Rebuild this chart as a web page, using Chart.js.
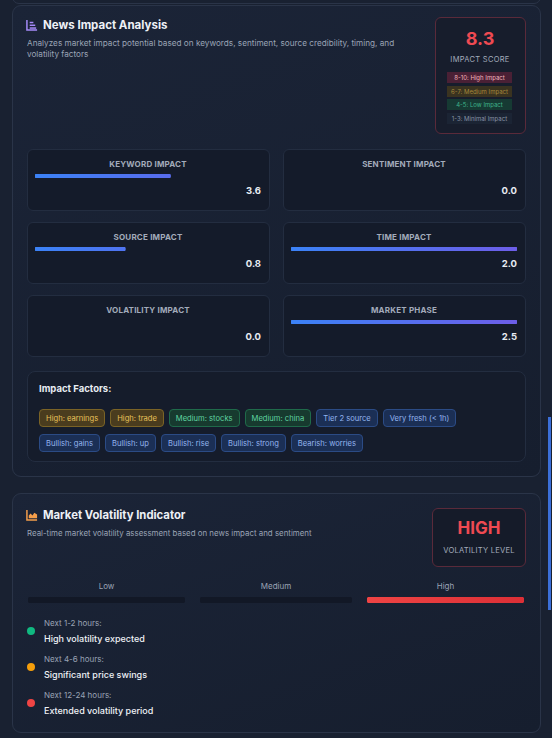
<!DOCTYPE html>
<html><head><meta charset="utf-8">
<script src="https://cdn.jsdelivr.net/npm/chart.js@4.4.0/dist/chart.umd.min.js"></script>
<style>
html,body{margin:0;padding:0;width:552px;height:738px;overflow:hidden;background:#192131;font-family:Inter,"Noto Sans",sans-serif;}
.a{position:absolute;}
.card{position:absolute;border:1px solid #2a3448;border-radius:9px;background:linear-gradient(160deg,#1b2437,#161e2e);}
.mc{position:absolute;border:1px solid #232d40;border-radius:6px;background:#141b2a;}
.t{position:absolute;white-space:nowrap;}
.chip{display:inline-block;font-size:7.6px;padding:0 6px;height:18px;line-height:17px;border-radius:4px;margin-right:5px;box-sizing:border-box;border:1px solid;}
canvas{display:block}
</style></head><body>
<div id="root"></div>
<script>
// ---- data ----
const metricNames = ["KEYWORD IMPACT","SENTIMENT IMPACT","SOURCE IMPACT","TIME IMPACT","VOLATILITY IMPACT","MARKET PHASE"];
const metricValues = [3.6, 0.0, 0.8, 2.0, 0.0, 2.5];
const metricMax = [6, 2, 2, 2, 2, 2.5];
const impactScore = 8.3;
const legendLabels = ["8-10: High Impact","6-7: Medium Impact","4-5: Low Impact","1-3: Minimal Impact"];
const factorsRow1 = ["High: earnings","High: trade","Medium: stocks","Medium: china","Tier 2 source","Very fresh (< 1h)"];
const factorsRow2 = ["Bullish: gains","Bullish: up","Bullish: rise","Bullish: strong","Bearish: worries"];
const levelLabels = ["Low","Medium","High"];
const levelActive = [0, 0, 1];
const forecastWhen = ["Next 1-2 hours:","Next 4-6 hours:","Next 12-24 hours:"];
const forecastText = ["High volatility expected","Significant price swings","Extended volatility period"];

const root=document.getElementById('root');
function el(html){const d=document.createElement('div');d.innerHTML=html;const n=d.firstElementChild;root.appendChild(n);return n;}
function txt(x,y,s,style){return el(`<div class="t" style="left:${x}px;top:${y}px;${style}">${s}</div>`);}

// backgrounds
el(`<div class="a" style="left:12px;top:-10px;width:527px;height:12px;border:1px solid #2a3448;border-radius:8px;"></div>`);
el(`<div class="card" style="left:12px;top:5px;width:527px;height:470px;"></div>`);
el(`<div class="card" style="left:12px;top:493px;width:527px;height:238px;"></div>`);
el(`<div class="a" style="left:548px;top:417px;width:3px;height:193px;background:#3b6fd8;"></div>`);

// header 1
el(`<svg class="a" style="left:26px;top:19px" width="12" height="12" viewBox="0 0 13 13"><path d="M1 1v11h11" stroke="#a78bfa" stroke-width="1.6" fill="none"/><rect x="4" y="3" width="4" height="1.6" fill="#a78bfa"/><rect x="4" y="6" width="6" height="1.6" fill="#a78bfa"/><rect x="4" y="9" width="7" height="1.6" fill="#a78bfa"/></svg>`);
txt(43,18,"News Impact Analysis","font-size:11.5px;font-weight:700;color:#eef1f6;");
txt(27,38,"Analyzes market impact potential based on keywords, sentiment, source credibility, timing, and<br>volatility factors","font-size:8.2px;color:#9aa3b5;line-height:11px;");

// score box
el(`<div class="a" style="left:435px;top:17px;width:89px;height:115px;border:1px solid #5a2a3a;border-radius:6px;background:#171d2c;"></div>`);
txt(435,28,impactScore.toFixed(1),"width:90px;text-align:center;font-size:18px;font-weight:700;color:#ef4a52;");
txt(435,55,"IMPACT SCORE","width:90px;text-align:center;font-size:7.5px;color:#a3abbb;letter-spacing:0.3px;");
const lgBg=["#4a2035","#3a3320","#163a33","#1b2434"], lgFg=["#f3b4be","#a5873a","#3fb48a","#8a93a5"];
legendLabels.forEach((s,i)=>txt(447,72+i*13.5,s,`width:65px;text-align:center;font-size:6px;height:11px;line-height:11px;background:${lgBg[i]};color:${lgFg[i]};`));

// bar helper
function gradFill(ctx,c1,c2){const ch=ctx.chart;const a=ch.chartArea;if(!a)return c1;const g=ch.ctx.createLinearGradient(a.left,0,a.right,0);g.addColorStop(0,c1);g.addColorStop(1,c2);return g;}
function barChart(x,y,w,h,value,max,c1,c2){
  const c=el(`<div class="a" style="left:${x}px;top:${y}px;width:${w}px;height:${h}px;"><canvas></canvas></div>`).firstElementChild;
  const datasets=[{data:[value>0?value:null],backgroundColor:ctx=>gradFill(ctx,c1,c2),borderWidth:0,borderRadius:h,borderSkipped:false,barPercentage:1,categoryPercentage:1}];
  new Chart(c,{type:'bar',data:{labels:[''],datasets},options:{indexAxis:'y',responsive:true,maintainAspectRatio:false,animation:false,events:[],layout:{padding:0},
    plugins:{legend:{display:false},tooltip:{enabled:false}},
    scales:{x:{display:false,min:0,max:max},y:{display:false}}}});
}

// metric cards
metricNames.forEach((n,i)=>{
  const col=i%2,row=Math.floor(i/2);
  const x=col?283:27, y=149+row*73;
  el(`<div class="mc" style="left:${x}px;top:${y}px;width:241px;height:60px;"></div>`);
  txt(x,y+10,n,"width:242px;text-align:center;font-size:8px;font-weight:700;color:#a3abbb;letter-spacing:0.2px;");
  barChart(x+8,y+25,226,4,metricValues[i],metricMax[i],"#3b82f6","#6d5ee8");
  txt(x,y+36,metricValues[i].toFixed(1),"width:234px;text-align:right;font-size:9.5px;font-weight:700;color:#e8ecf2;");
});

// factors
el(`<div class="mc" style="left:27px;top:371px;width:497px;height:89px;border-radius:8px;background:#151c2b;"></div>`);
txt(39,383,"Impact Factors:","font-size:9.5px;font-weight:700;color:#e8ecf2;");
function chipStyle(s){
  if(s.startsWith("High"))return "background:#4a3c1e;border-color:#7a6326;color:#e7c15a;";
  if(s.startsWith("Medium"))return "background:#173a2f;border-color:#1f6a4a;color:#5fd3a0;";
  return "background:#1b2f55;border-color:#2b4b85;color:#93b4ee;";
}
[factorsRow1,factorsRow2].forEach((row,r)=>{
  el(`<div class="t" style="left:39px;top:${405+r*25}px;">${row.map(s=>`<span class="chip" style="${chipStyle(s)}">${s.replace('<','&lt;')}</span>`).join('')}</div>`);
});

// header 2
el(`<svg class="a" style="left:26px;top:509px" width="12" height="12" viewBox="0 0 13 13"><path d="M1 1v11h11" stroke="#f59e4b" stroke-width="1.6" fill="none"/><path d="M3 10V7l2-2 2 2 2-3 3 2v4z" fill="#f59e4b"/></svg>`);
txt(43,508,"Market Volatility Indicator","font-size:11.3px;font-weight:700;color:#eef1f6;");
txt(27,528,"Real-time market volatility assessment based on news impact and sentiment","font-size:7.9px;color:#9aa3b5;");
el(`<div class="a" style="left:432px;top:508px;width:92px;height:57px;border:1px solid #5a2a3a;border-radius:6px;background:#151b29;"></div>`);
txt(432,518,"HIGH","width:94px;text-align:center;font-size:17px;font-weight:700;color:#ef4a52;");
txt(432,546,"VOLATILITY LEVEL","width:94px;text-align:center;font-size:7.6px;color:#a3abbb;letter-spacing:0.2px;");

// level bars
const segX=[28,200,367], segW=[157,152,157];
levelLabels.forEach((s,i)=>{
  txt(segX[i],581,s,`width:${segW[i]}px;text-align:center;font-size:8px;color:#9aa3b5;`);
  barChart(segX[i],597,segW[i],6,1,1,levelActive[i]?"#ef4444":"#121826",levelActive[i]?"#dc2f36":"#121826");
});

// forecast
const dotC=["#10b981","#f59e0b","#ef4444"];
forecastWhen.forEach((s,i)=>{
  const y=618+i*36;
  el(`<div class="a" style="left:27px;top:${y+9}px;width:8px;height:8px;border-radius:50%;background:${dotC[i]};"></div>`);
  txt(44,y,s,"font-size:8px;color:#9aa3b5;");
  txt(44,y+15,forecastText[i],"font-size:9px;font-weight:500;color:#eef1f6;");
});
</script>
</body></html>
